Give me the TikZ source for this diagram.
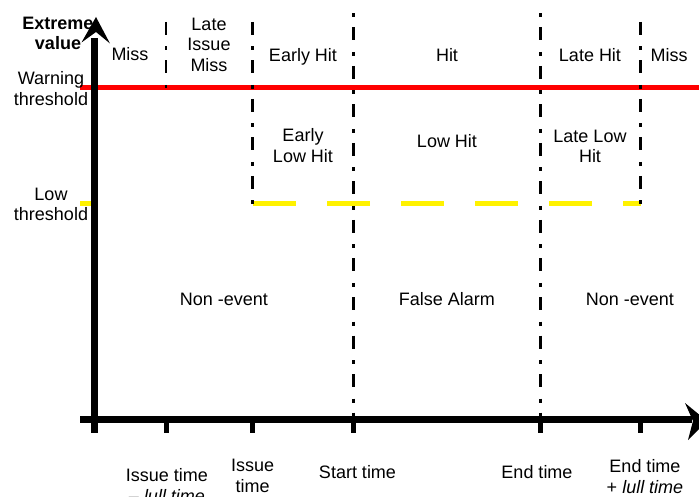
\documentclass[tikz,border=0pt]{standalone}
\usepackage{fontspec}
\setmainfont{Liberation Sans}
\begin{document}
\begin{tikzpicture}[x=1pt,y=-1pt,
  lbl/.style={font=\fontsize{18}{20.5}\selectfont, align=center, inner sep=0pt,
              anchor=north, execute at begin node=\strut, yshift=-2pt},
  divider/.style={line width=2.5pt, dash pattern=on 13pt off 11.5pt on 4pt off 10pt},
  fulldivider/.style={divider, dash phase=24.5pt},
  axisline/.style={line width=7pt},
  tickmark/.style={line width=5pt},
  warnline/.style={red, line width=5pt},
  lowline/.style={yellow, line width=5pt, dash pattern=on 43pt off 31pt}]
\useasboundingbox (0,0) rectangle (699,497);
\clip (0,0) rectangle (699,497);

% time positions on the horizontal axis
\coordinate (tL)  at (166,419.5);
\coordinate (tI)  at (252.5,419.5);
\coordinate (tS)  at (353.5,419.5);
\coordinate (tE)  at (540.3,419.5);
\coordinate (tEL) at (640.3,419.5);

% thresholds
\draw[warnline] (80,88) -- (699,88);
\draw[lowline] (80,204) -- (94,204);
\draw[lowline] (253,204) -- (641,204);

% period boundaries
\draw[divider] (166,22) -- (166,88);
\draw[divider] (252.5,22) -- (252.5,204);
\draw[fulldivider] (353.5,13.5) -- (tS);
\draw[fulldivider] (540.3,13.5) -- (tE);
\draw[divider] (640.3,22) -- (640.3,204);

% axis labels
\node[lbl, font=\fontsize{18}{20}\selectfont\bfseries] (yl) at (58,14.65) {Extreme\\value};
\node[lbl] (warn) at (51,69.65) {Warning\\threshold};
\node[lbl] (low) at (51,185.65) {Low\\threshold};

% region labels
\node[lbl] (r1) at (130,43.65) {Miss};
\node[lbl] (r2) at (209,15.65) {Late\\Issue\\Miss};
\node[lbl] (r3) at (303,44.65) {Early Hit};
\node[lbl] (r4) at (447,44.65) {Hit};
\node[lbl] (r5) at (590,44.65) {Late Hit};
\node[lbl] (r6) at (669,44.65) {Miss};
\node[lbl] (r7) at (303,126.65) {Early\\Low Hit};
\node[lbl] (r8) at (447,130.65) {Low Hit};
\node[lbl] (r9) at (590,127.65) {Late Low\\Hit};
\node[lbl] (r10) at (224,288.65) {Non -event};
\node[lbl] (r11) at (447,288.65) {False Alarm};
\node[lbl] (r12) at (630,288.65) {Non -event};

% time labels
\node[lbl] (b1) at (167,466.65) {Issue time\\– \textit{lull time}};
\node[lbl] (b2) at (252.7,457.35) {Issue\\time};
\node[lbl] (b3) at (357.5,461.65) {Start time};
\node[lbl] (b4) at (537,461.65) {End time};
\node[lbl] (b5) at (645,457.35) {End time\\+ \textit{lull time}};

% axes
\draw[axisline] (94.3,432.5) -- (94.3,38);
\draw[axisline] (80,419.5) -- (692,419.5);
\fill (96,17) -- (110,43.5) -- (96,32) -- (81.5,42.5) -- cycle;
\fill (707,421) -- (685,403) -- (693,421) -- (688,440) -- cycle;

% ticks
\foreach \t in {tL,tI,tS,tE,tEL}
  \draw[tickmark] (\t) -- ++(0,13);
\end{tikzpicture}
\end{document}
